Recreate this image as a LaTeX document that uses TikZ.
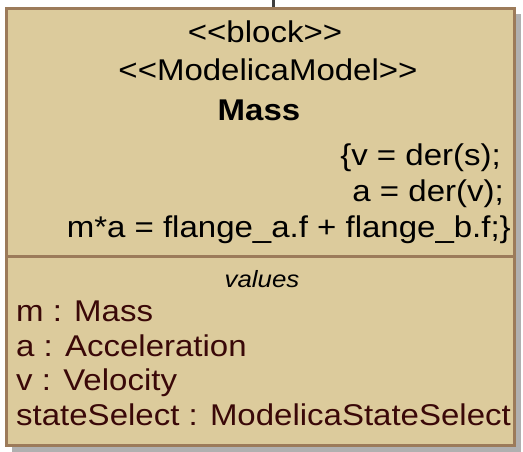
\documentclass[tikz,border=0pt]{standalone}
\usepackage{fontspec}
\setmainfont{Liberation Sans}[FakeStretch=1.1,Ligatures=TeXOff]
\begin{document}
\begin{tikzpicture}[x=1pt,y=-1pt,
  txt/.style={anchor=base,inner sep=0pt,font=\fontsize{30}{36}\selectfont},
  valtxt/.style={txt,anchor=base west,text=valcol}]
\definecolor{fillcol}{HTML}{DCCB9C}
\definecolor{bordercol}{HTML}{9C7B5A}
\definecolor{valcol}{HTML}{3A0808}
\definecolor{shadowcol}{HTML}{B0B0B0}
\useasboundingbox (0,0) rectangle (523,451);
% shadow
\fill[shadowcol] (12,14) rectangle (521,452);
% block
\draw[line width=3pt,bordercol,fill=fillcol] (6.5,8.5) rectangle (514.5,445.5);
\draw[line width=3pt,bordercol] (6.5,256.5) -- (514.5,256.5);
% top connector
\coordinate (topend) at (273,0);
\coordinate (topstart) at (273,7);
\draw[line width=3pt,black!75] (topstart) -- (topend);
% header
\node[txt] (st1) at (265,42) {<<block>>};
\node[txt] (st2) at (268,80.5) {<<ModelicaModel>>};
\node[txt,font=\fontsize{30}{36}\selectfont\bfseries] (name) at (259,120) {Mass};
\node[txt,anchor=base east] (eq1) at (501,165) {\{v = der(s);};
\node[txt,anchor=base east] (eq2) at (504,201) {a = der(v);};
\node[txt,anchor=base east] (eq3) at (511,237) {m*a = flange\_a.f + flange\_b.f;\}};
% values
\node[txt,font=\fontsize{23.5}{28}\selectfont\itshape] (vh) at (262,287) {values};
\node[valtxt] (v1) at (16,321.5) {m : Mass};
\node[valtxt] (v2) at (16,356) {a : Acceleration};
\node[valtxt] (v3) at (16,390.5) {v : Velocity};
\node[valtxt] (v4) at (16,425) {stateSelect : ModelicaStateSelect};
\end{tikzpicture}
\end{document}
